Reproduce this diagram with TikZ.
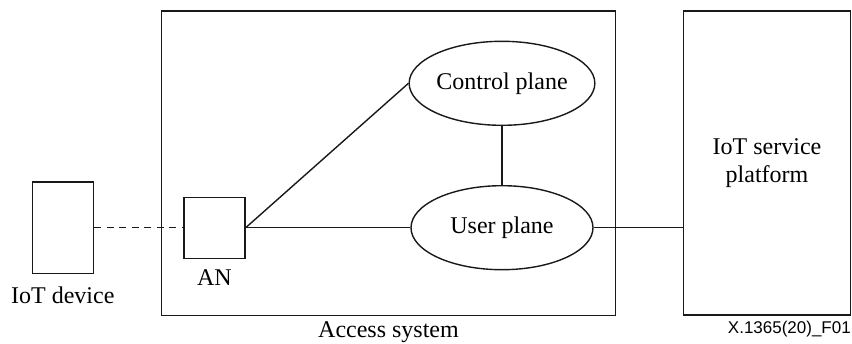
\documentclass[tikz,border=0pt]{standalone}
\usepackage{fontspec}
\setmainfont{Liberation Serif}
\newfontfamily\figsans{Liberation Sans}
\usetikzlibrary{shapes.geometric}

\tikzset{
  line/.style={line width=1.4pt, draw=black!90},
  blockbox/.style={line, rectangle, inner sep=0pt, minimum width=#1},
  planeell/.style={line, ellipse, inner sep=0pt, minimum width=182pt, minimum height=84pt,
    font=\fontsize{24}{28}\selectfont},
  caption/.style={font=\fontsize{24}{28}\selectfont, inner sep=0pt},
  link/.style={line},
  dashlink/.style={line, dash pattern=on 7pt off 5.5pt},
}

\begin{document}
\begin{tikzpicture}[x=1pt, y=-1pt]
  \useasboundingbox (0,0) rectangle (852,343);

  % outer frames
  \node[blockbox=454.4pt, minimum height=304.3pt] (acc) at (388.5,163.2) {};
  \node[blockbox=167.4pt, minimum height=304pt, align=center,
        font=\fontsize{24}{28}\selectfont] (plat) at (767,163) {IoT service\\platform};

  % device and access node
  \node[blockbox=61pt, minimum height=91.3pt] (dev) at (62.8,227.7) {};
  \node[blockbox=61pt, minimum height=61pt] (an) at (214.5,227.7) {};

  % planes
  \node[planeell] (cp) at (502,83.3) {Control plane};
  \node[planeell] (up) at (502,227.7) {User plane};

  % labels
  \node[caption, anchor=base] (devlbl) at (62.8,303) {IoT device};
  \node[caption, anchor=base] (anlbl) at (214.5,285) {AN};
  \node[caption, anchor=base] (acclbl) at (388.5,337) {Access system};
  \node[inner sep=0pt, anchor=base east, font=\figsans\fontsize{17}{19}\selectfont]
       (figid) at (851,333) {X.1365(20)\_F01};

  % connectors
  \draw[dashlink] (dev.east) -- (an.west);
  \draw[link] (an.east) -- (cp.west);
  \draw[link] (an.east) -- (up.west);
  \draw[link] (cp.south) -- (up.north);
  \draw[link] (up.east) -- (up.east -| plat.west);
\end{tikzpicture}
\end{document}
